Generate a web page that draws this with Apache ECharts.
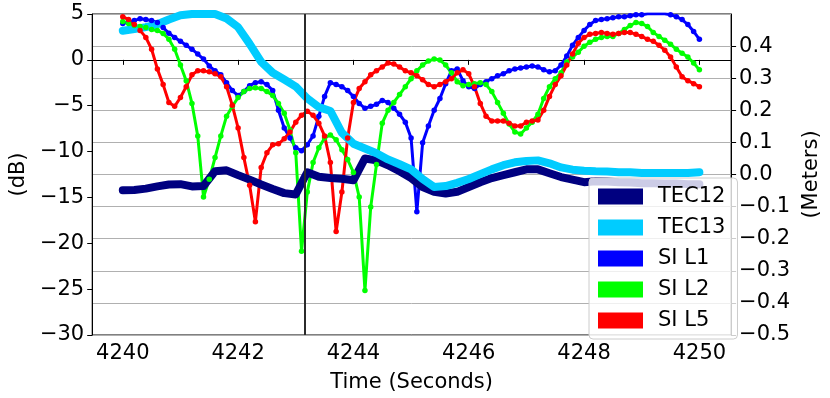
<!DOCTYPE html>
<html>
<head>
<meta charset="utf-8">
<script src="https://cdn.jsdelivr.net/npm/echarts@6/dist/echarts.min.js"></script>
<style>
  html, body { margin: 0; padding: 0; background: #fff; }
  #chart { width: 830px; height: 398px; }
</style>
</head>
<body>
<div id="chart"></div>
<script>
// time grid: SI sampled every 0.1 s, TEC every 0.2 s, starting at 4240 s
const siStart = 4240, siStep = 0.1
const tecStart = 4240, tecStep = 0.2

// SI (dB, left axis)
const siL1 = [3.96,4.17,4.28,4.49,4.39,4.28,4.07,3.53,2.89,2.45,
  2.02,1.59,1.16,0.63,0.09,-0.66,-1.20,-1.63,-2.49,-3.35,
  -3.89,-3.46,-2.81,-2.49,-2.38,-2.70,-3.35,-5.50,-7.43,-8.51,
  -9.58,-9.90,-9.26,-8.29,-6.14,-3.99,-2.49,-2.70,-2.92,-3.35,
  -3.99,-4.75,-5.28,-5.07,-4.85,-4.42,-4.64,-5.28,-5.93,-6.79,
  -8.51,-16.57,-9.04,-7.22,-5.50,-4.21,-2.60,-1.20,-0.99,-2.27,
  -2.92,-3.13,-2.70,-2.38,-2.06,-1.74,-1.52,-1.20,-0.99,-0.88,
  -0.77,-0.66,-0.77,-1.09,-1.31,-1.20,-0.56,0.41,1.59,2.45,
  3.21,3.85,4.28,4.39,4.49,4.60,4.71,4.71,4.82,4.92,
  4.92,5.03,5.03,5.03,5.03,4.92,4.71,4.39,3.85,3.10,
  2.24]
const siL2 = [4.17,3.96,3.74,3.64,3.53,3.31,3.21,2.88,2.24,1.16,
  -0.56,-2.27,-4.75,-8.29,-14.95,-13.02,-10.66,-8.29,-6.14,-5.07,
  -4.10,-3.46,-3.13,-3.03,-3.13,-3.46,-3.89,-4.75,-5.82,-7.65,
  -10.12,-20.87,-14.42,-11.19,-9.58,-8.51,-8.19,-8.72,-9.80,-10.87,
  -12.27,-14.95,-25.16,-16.03,-11.41,-6.90,-5.50,-4.64,-3.78,-2.92,
  -2.06,-1.20,-0.56,-0.13,0.09,-0.02,-0.56,-1.41,-2.38,-2.81,
  -2.70,-2.60,-2.49,-2.70,-3.46,-4.64,-5.82,-7.00,-7.86,-8.08,
  -7.43,-6.79,-5.93,-4.21,-2.92,-2.06,-1.41,-0.23,0.30,0.84,
  1.49,1.92,2.24,2.45,2.56,2.56,2.88,3.31,3.74,4.07,
  3.96,3.64,2.99,2.56,2.13,1.70,1.16,0.73,0.30,-0.34,
  -1.09]
const siL5 = [4.71,4.39,3.85,3.21,2.45,1.16,-0.99,-2.70,-4.64,-5.07,
  -4.10,-2.92,-1.63,-1.20,-1.20,-1.31,-1.52,-1.84,-2.92,-4.96,
  -7.43,-10.66,-13.67,-17.64,-11.73,-10.12,-9.26,-9.15,-8.61,-7.86,
  -6.79,-6.04,-5.61,-6.04,-6.90,-8.29,-11.19,-18.72,-14.42,-8.51,
  -4.64,-3.13,-2.38,-1.63,-1.20,-0.77,-0.34,-0.45,-0.77,-1.20,
  -1.41,-1.74,-2.17,-2.70,-2.92,-2.70,-2.38,-2.06,-1.41,-1.09,
  -1.52,-2.92,-4.75,-6.14,-6.68,-6.68,-6.68,-6.90,-7.22,-7.22,
  -6.79,-6.68,-6.57,-5.50,-3.99,-2.70,-1.74,-0.56,0.63,1.81,
  2.45,2.78,2.88,2.99,2.88,2.78,2.88,2.99,2.99,2.78,
  2.56,2.24,2.02,1.59,1.06,0.30,-0.77,-1.84,-2.27,-2.60,
  -2.92]

// TEC (meters, right axis)
const tec12 = [-0.049,-0.048,-0.044,-0.037,-0.031,-0.030,-0.037,-0.036,0.010,0.013,
  -0.002,-0.016,-0.031,-0.045,-0.058,-0.062,0.007,-0.007,-0.011,-0.013,
  -0.018,0.050,0.044,0.029,0.010,-0.011,-0.039,-0.054,-0.059,-0.054,
  -0.039,-0.024,-0.011,-0.002,0.007,0.016,0.016,0.004,-0.008,-0.016,
  -0.024,-0.021,-0.022,-0.024,-0.025,-0.027,-0.027,-0.028,-0.028,-0.030,
  -0.030]
const tec13 = [0.448,0.453,0.459,0.468,0.483,0.496,0.500,0.500,0.500,0.486,
  0.459,0.407,0.351,0.317,0.296,0.274,0.237,0.210,0.198,0.130,
  0.096,0.081,0.066,0.047,0.032,0.016,-0.014,-0.039,-0.036,-0.026,
  -0.014,0.001,0.016,0.029,0.038,0.042,0.044,0.035,0.022,0.015,
  0.012,0.010,0.009,0.007,0.007,0.005,0.005,0.005,0.005,0.005,
  0.007]

const xTicks = [4240, 4242, 4244, 4246, 4248, 4250]
const eventTime = 4243.16

const font = 'DejaVu Sans'
const minus = s => String(s).replace('-', '\u2212')

function pairs(start, step, vals) {
  return vals.map((v, i) => [+(start + i * step).toFixed(2), v])
}

function siSeries(name, color, vals, extra) {
  return Object.assign({
    name: name,
    type: 'line',
    yAxisIndex: 0,
    data: pairs(siStart, siStep, vals),
    symbol: 'circle',
    symbolSize: 5.5,
    showSymbol: true,
    showAllSymbol: true,
    lineStyle: { color: color, width: 3 },
    itemStyle: { color: color },
    emphasis: { disabled: true }
  }, extra || {})
}

function tecSeries(name, color, vals) {
  return {
    name: name,
    type: 'line',
    yAxisIndex: 1,
    data: pairs(tecStart, tecStep, vals),
    showSymbol: false,
    lineStyle: { color: color, width: 8, cap: 'round', join: 'round' },
    itemStyle: { color: color },
    emphasis: { disabled: true }
  }
}

const chart = echarts.init(document.getElementById('chart'), null, { renderer: 'canvas' })

const option = {
  animation: false,
  backgroundColor: '#ffffff',
  grid: {
    left: 85, right: 91, top: 14, bottom: 58,
    show: true, borderColor: '#000', borderWidth: 1, backgroundColor: 'transparent'
  },
  legend: {
    data: ['TEC12', 'TEC13', 'SI L1', 'SI L2', 'SI L5'],
    orient: 'vertical',
    left: 589, top: 178,
    icon: 'rect',
    itemWidth: 45, itemHeight: 16, itemGap: 10,
    padding: [8, 12, 8, 9],
    backgroundColor: 'rgba(255,255,255,0.8)',
    borderColor: '#cccccc', borderWidth: 1, borderRadius: 4,
    textStyle: { fontFamily: font, fontSize: 21, color: '#000', padding: [0, 0, 0, 10] }
  },
  xAxis: {
    type: 'value',
    min: 4239.47, max: 4250.55,
    name: 'Time (Seconds)',
    nameLocation: 'middle',
    nameGap: 37,
    nameTextStyle: { fontFamily: font, fontSize: 21, color: '#000' },
    axisLine: { lineStyle: { color: '#000', width: 1 } },
    axisTick: { show: true, length: 5, lineStyle: { color: '#000' }, customValues: xTicks },
    axisLabel: {
      fontFamily: font, fontSize: 21, color: '#000', margin: 8,
      customValues: xTicks,
      formatter: v => String(v)
    },
    splitLine: { show: false }
  },
  yAxis: [
    {
      type: 'value',
      min: -30, max: 5, interval: 5,
      name: '(dB)',
      nameLocation: 'middle',
      nameGap: 56,
      nameTextStyle: { fontFamily: font, fontSize: 21, color: '#000' },
      axisLine: { show: true, lineStyle: { color: '#000', width: 1 } },
      axisTick: { show: true, length: 5, lineStyle: { color: '#000' } },
      axisLabel: { fontFamily: font, fontSize: 21, color: '#000', margin: 8, formatter: v => minus(v) },
      splitLine: { show: false }
    },
    {
      type: 'value',
      position: 'right',
      min: -0.5, max: 0.5, interval: 0.1,
      name: '(Meters)',
      nameLocation: 'middle',
      nameGap: 66,
      nameTextStyle: { fontFamily: font, fontSize: 21, color: '#000' },
      axisLine: { show: true, lineStyle: { color: '#000', width: 1 } },
      axisTick: { show: true, length: 5, lineStyle: { color: '#000' } },
      axisLabel: {
        fontFamily: font, fontSize: 21, color: '#000', margin: 8,
        showMaxLabel: false,
        formatter: v => minus(v.toFixed(1))
      },
      splitLine: { show: true, lineStyle: { color: '#b0b0b0', width: 1 } }
    }
  ],
  series: [
    siSeries('SI L1', '#0000ff', siL1),
    siSeries('SI L2', '#00ff00', siL2),
    siSeries('SI L5', '#ff0000', siL5, {
      markLine: {
        silent: true,
        symbol: 'none',
        label: { show: false },
        lineStyle: { color: '#2b2b2b', width: 2, type: 'solid' },
        data: [{ xAxis: eventTime }]
      }
    }),
    tecSeries('TEC12', '#000080', tec12),
    tecSeries('TEC13', '#00ccff', tec13)
  ]
}

chart.setOption(option)
window.addEventListener('resize', function() {
  chart.resize()
})
</script>
</body>
</html>
